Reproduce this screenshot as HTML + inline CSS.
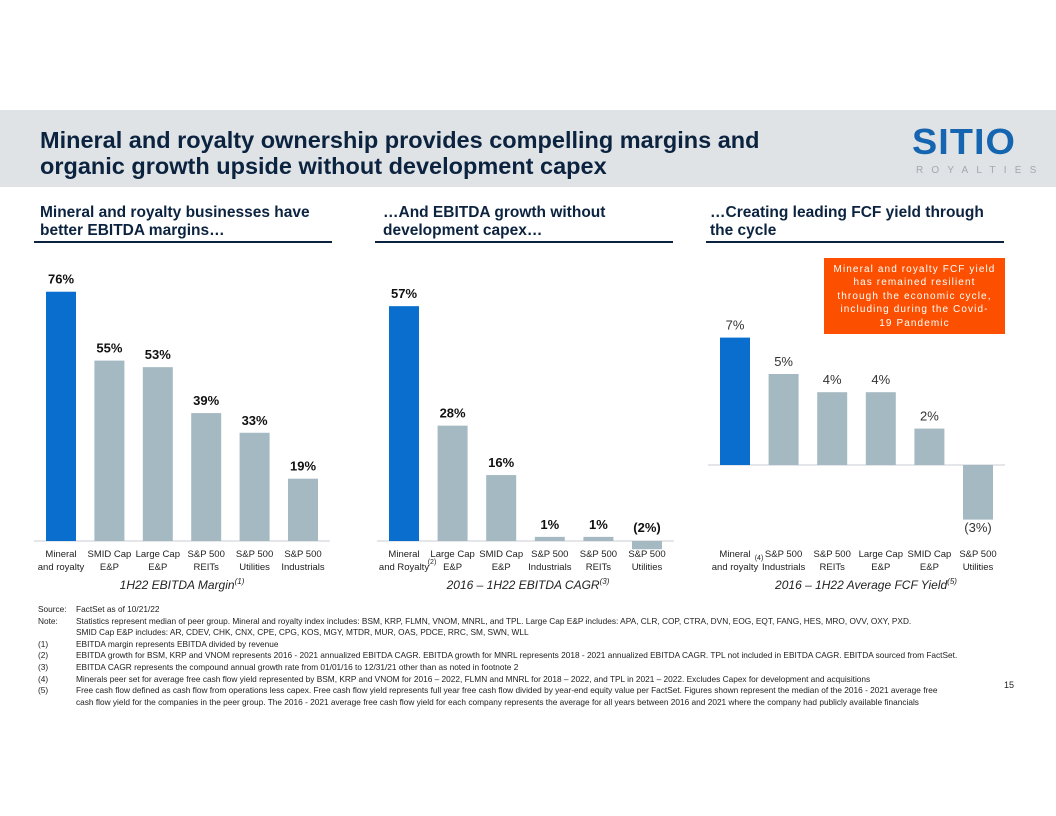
<!DOCTYPE html>
<html><head><meta charset="utf-8"><style>
body{margin:0;width:1056px;height:816px;background:#fff;font-family:"Liberation Sans",sans-serif;overflow:hidden;position:relative}
.hdr{position:absolute;left:0;top:110px;width:1056px;height:77px;background:#dfe3e6}
.t{position:absolute;color:#0c2340;font-weight:bold}
.notes{position:absolute;left:38px;top:604px;font-size:8.3px;color:#222;line-height:11.6px;font-family:"Liberation Sans Narrow","Liberation Sans",sans-serif}
.notes div{white-space:nowrap}
.notes span{display:inline-block;width:38px}
</style></head><body>
<div class="hdr"></div>
<div class="t" style="left:40px;top:127px;font-size:23.5px;line-height:26px;">Mineral and royalty ownership provides compelling margins and<br>organic growth upside without development capex</div>
<div style="position:absolute;left:912px;top:124px;width:126px;height:56px">
<div style="font-weight:bold;font-size:36px;color:#1565b0;letter-spacing:1px;line-height:36px;transform:scaleX(1.05);transform-origin:left">SITIO</div>
<div style="font-size:10px;color:#a0a8b0;letter-spacing:8.2px;margin-top:5px;margin-left:4px">ROYALTIES</div></div>
<div class="t" style="left:40px;top:204px;font-size:15.5px;line-height:18px">Mineral and royalty businesses have<br>better EBITDA margins…</div>
<div class="t" style="left:383px;top:204px;font-size:15.5px;line-height:18px">…And EBITDA growth without<br>development capex…</div>
<div class="t" style="left:710px;top:204px;font-size:15.5px;line-height:18px">…Creating leading FCF yield through<br>the cycle</div>
<div style="position:absolute;left:34px;top:241px;width:298px;height:2px;background:#0c2340"></div>
<div style="position:absolute;left:375px;top:241px;width:298px;height:2px;background:#0c2340"></div>
<div style="position:absolute;left:706px;top:241px;width:298px;height:2px;background:#0c2340"></div>
<div style="position:absolute;left:824px;top:258px;width:181px;height:76px;background:#fc5000;color:#fff;font-size:10px;letter-spacing:1.1px;text-align:center;line-height:13.4px;padding-top:5px;box-sizing:border-box;white-space:nowrap">Mineral and royalty FCF yield<br>has remained resilient<br>through the economic cycle,<br>including during the Covid-<br>19 Pandemic</div>
<svg id="ch" width="1056" height="816" style="position:absolute;left:0;top:0"></svg>
<div class="notes">
<div><span>Source:</span>FactSet as of 10/21/22</div>
<div><span>Note:</span>Statistics represent median of peer group. Mineral and royalty index includes: BSM, KRP, FLMN, VNOM, MNRL, and TPL. Large Cap E&amp;P includes: APA, CLR, COP, CTRA, DVN, EOG, EQT, FANG, HES, MRO, OVV, OXY, PXD.</div>
<div><span></span>SMID Cap E&amp;P includes: AR, CDEV, CHK, CNX, CPE, CPG, KOS, MGY, MTDR, MUR, OAS, PDCE, RRC, SM, SWN, WLL</div>
<div><span>(1)</span>EBITDA margin represents EBITDA divided by revenue</div>
<div><span>(2)</span>EBITDA growth for BSM, KRP and VNOM represents 2016 - 2021 annualized EBITDA CAGR. EBITDA growth for MNRL represents 2018 - 2021 annualized EBITDA CAGR. TPL not included in EBITDA CAGR. EBITDA sourced from FactSet.</div>
<div><span>(3)</span>EBITDA CAGR represents the compound annual growth rate from 01/01/16 to 12/31/21 other than as noted in footnote 2</div>
<div><span>(4)</span>Minerals peer set for average free cash flow yield represented by BSM, KRP and VNOM for 2016 – 2022, FLMN and MNRL for 2018 – 2022, and TPL in 2021 – 2022. Excludes Capex for development and acquisitions</div>
<div><span>(5)</span>Free cash flow defined as cash flow from operations less capex. Free cash flow yield represents full year free cash flow divided by year-end equity value per FactSet. Figures shown represent the median of the 2016 - 2021 average free</div>
<div><span></span>cash flow yield for the companies in the peer group. The 2016 - 2021 average free cash flow yield for each company represents the average for all years between 2016 and 2021 where the company had publicly available financials</div>
</div>
<div style="position:absolute;left:1004px;top:680px;font-size:9px;color:#222">15</div>
<script>
const cats1=["Mineral|and royalty","SMID Cap|E&P","Large Cap|E&P","S&P 500|REITs","S&P 500|Utilities","S&P 500|Industrials"];
const vals1=[76,55,53,39,33,19];
const cats2=["Mineral|and Royalty","Large Cap|E&P","SMID Cap|E&P","S&P 500|Industrials","S&P 500|REITs","S&P 500|Utilities"];
const vals2=[57,28,16,1,1,-2];
const cats3=["Mineral|and royalty","S&P 500|Industrials","S&P 500|REITs","Large Cap|E&P","SMID Cap|E&P","S&P 500|Utilities"];
const vals3=[7,5,4,4,2,-3];
const labels3=["7%","5%","4%","4%","2%","(3%)"];
const svg=document.getElementById('ch');const NS='http://www.w3.org/2000/svg';
function mk(t,a,txt,parent){const e=document.createElementNS(NS,t);for(const k in a)e.setAttribute(k,a[k]);if(txt!=null)e.textContent=txt;(parent||svg).appendChild(e);return e;}
function chart(cats,vals,x0,step,base,scale,opt){
 const y=v=>base-v*scale;
 const ax=mk('line',{x1:x0-12,x2:x0+step*5+42,y1:base,y2:base,stroke:'#c8ced3','stroke-width':1});
 
 vals.forEach((v,i)=>{
  const bx=x0+i*step;
  const r=mk('rect',{x:bx,y:Math.min(y(v),base),width:30,height:Math.abs(v*scale),fill:i==0?'#0a6ecf':'#a4b9c1'});
  
  const lab=opt.labels?opt.labels[i]:(v<0?'('+(-v)+'%)':v+'%');
  const ly=v<0?(opt.negY?opt.negY:base-8):y(v)-8;
  const t=mk('text',{x:bx+15,y:ly,'text-anchor':'middle','font-size':13,'font-weight':opt.bold?'bold':'normal',fill:opt.bold?'#111':'#333'},lab);
  
  const [a,b]=cats[i].split('|');
  const t1=mk('text',{x:bx+15,y:557,'text-anchor':'middle','font-size':9.5,fill:'#222'},a);
  
  const t2=mk('text',{x:bx+15,y:570,'text-anchor':'middle','font-size':9.5,fill:'#222'},b);
  
 });
 const tt=mk('text',{x:opt.tx,y:589,'text-anchor':'middle','font-size':12,'font-style':'italic',fill:'#222'},opt.title);
 
 mk('tspan',{'font-size':8,dy:-5},opt.sup,tt);
}
chart(cats1,vals1,46,48.4,541,3.28,{id:'margin',bold:true,tx:182,title:'1H22 EBITDA Margin',sup:'(1)'});
chart(cats2,vals2,389,48.6,541,4.12,{id:'cagr',bold:true,tx:528,title:'2016 – 1H22 EBITDA CAGR',sup:'(3)',negY:532});
chart(cats3,vals3,720,48.6,465,18.2,{id:'fcf',bold:false,tx:866,title:'2016 – 1H22 Average FCF Yield',sup:'(5)',labels:labels3,negY:532});
const s2=mk('text',{x:432,y:564,'text-anchor':'middle','font-size':7,fill:'#222'},'(2)');

const s4=mk('text',{x:759,y:560,'text-anchor':'middle','font-size':7,fill:'#222'},'(4)');

</script>
</body></html>
